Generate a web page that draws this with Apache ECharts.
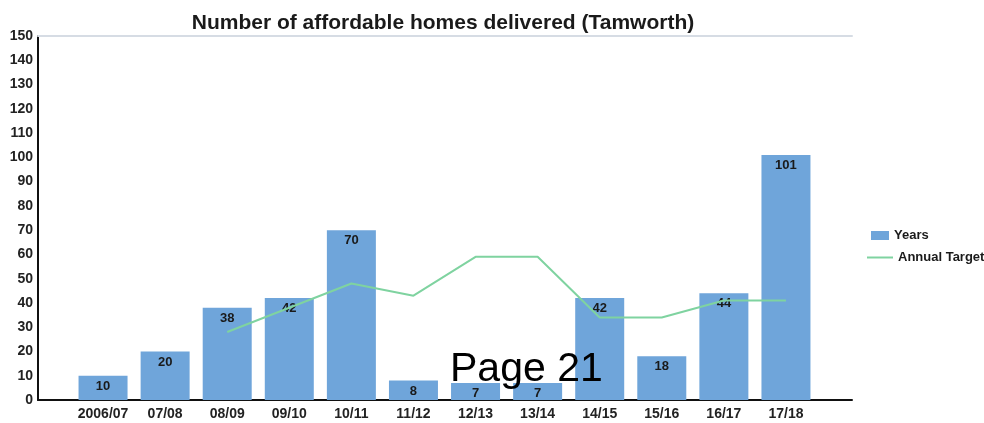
<!DOCTYPE html>
<html>
<head>
<meta charset="utf-8">
<script src="https://cdn.jsdelivr.net/npm/echarts@6/dist/echarts.min.js"></script>
<style>
html,body{margin:0;padding:0;background:#fff;}
#chart{width:984px;height:423px;}
</style>
</head>
<body>
<div id="chart"></div>
<script>
var categories = ['2006/07','07/08','08/09','09/10','10/11','11/12','12/13','13/14','14/15','15/16','16/17','17/18'];
var homesDelivered = [10, 20, 38, 42, 70, 8, 7, 7, 42, 18, 44, 101];
var annualTarget = ['-', '-', 28, 38, 48, 43, 59, 59, 34, 34, 41, 41];
var yTicks = {min: 0, max: 150, interval: 10};
var titleText = 'Number of affordable homes delivered (Tamworth)';
var pageText = 'Page 21';

var FONT = '"Liberation Sans", Arial, Helvetica, sans-serif';
var chart = echarts.init(document.getElementById('chart'), null, {renderer: 'canvas'});
chart.setOption({
  animation: false,
  title: {
    text: titleText,
    left: 438, top: 8, textAlign: 'center',
    textStyle: {fontFamily: FONT, fontWeight: 'bold', fontSize: 21, color: '#1a1a1a'}
  },
  legend: [
    {
      data: [{name: 'Years', icon: 'rect'}],
      orient: 'vertical', left: 866, top: 224,
      itemWidth: 18, itemHeight: 9,
      textStyle: {fontFamily: FONT, fontWeight: 'bold', fontSize: 13, color: '#1a1a1a'}
    },
    {
      data: [{name: 'Annual Target', icon: 'path://M0,0H26V2H0Z'}],
      orient: 'vertical', left: 862, top: 246,
      itemWidth: 26, itemHeight: 2,
      textStyle: {fontFamily: FONT, fontWeight: 'bold', fontSize: 13, color: '#1a1a1a'}
    }
  ],
  grid: [
    {left: 72, right: 167, top: 36, bottom: 23},
    {left: 38, right: 132, top: 36, bottom: 23}
  ],
  xAxis: [
    {
      type: 'category', gridIndex: 0, data: categories,
      axisLine: {show: false}, axisTick: {show: false},
      axisLabel: {fontFamily: FONT, fontWeight: 'bold', fontSize: 14, color: '#222', margin: 7, interval: 0}
    },
    {
      type: 'value', gridIndex: 1, min: 0, max: 1, position: 'bottom',
      axisLine: {show: true, lineStyle: {color: '#111', width: 2}},
      axisTick: {show: false}, axisLabel: {show: false}, splitLine: {show: false}
    },
    {
      type: 'value', gridIndex: 1, min: 0, max: 1, position: 'top',
      axisLine: {show: true, lineStyle: {color: '#d6dce4', width: 2}},
      axisTick: {show: false}, axisLabel: {show: false}, splitLine: {show: false}
    }
  ],
  yAxis: [
    {
      type: 'value', gridIndex: 0, min: yTicks.min, max: yTicks.max, interval: yTicks.interval,
      show: false, splitLine: {show: false}
    },
    {
      type: 'value', gridIndex: 1, min: yTicks.min, max: yTicks.max, interval: yTicks.interval,
      axisLine: {show: true, lineStyle: {color: '#111', width: 2}},
      axisTick: {show: false},
      axisLabel: {fontFamily: FONT, fontWeight: 'bold', fontSize: 14, color: '#222', margin: 5},
      splitLine: {show: false}
    }
  ],
  series: [
    {
      name: 'Years', type: 'bar', xAxisIndex: 0, yAxisIndex: 0,
      data: homesDelivered, barWidth: 49,
      itemStyle: {color: '#6fa5da'},
      label: {show: true, position: 'insideTop', distance: 4,
        fontFamily: FONT, fontWeight: 'bold', fontSize: 13, color: '#1a1a1a'}
    },
    {
      name: 'Annual Target', type: 'line', xAxisIndex: 0, yAxisIndex: 0,
      data: annualTarget, symbol: 'none', showSymbol: false,
      lineStyle: {color: '#7fd3a0', width: 2}, itemStyle: {color: '#7fd3a0'}
    }
  ],
  graphic: [
    {
      type: 'text', left: 450, top: 349, z: 100,
      style: {text: pageText, font: '41px "Liberation Sans", Arial, sans-serif', fill: '#000'}
    }
  ]
});
</script>
</body>
</html>
